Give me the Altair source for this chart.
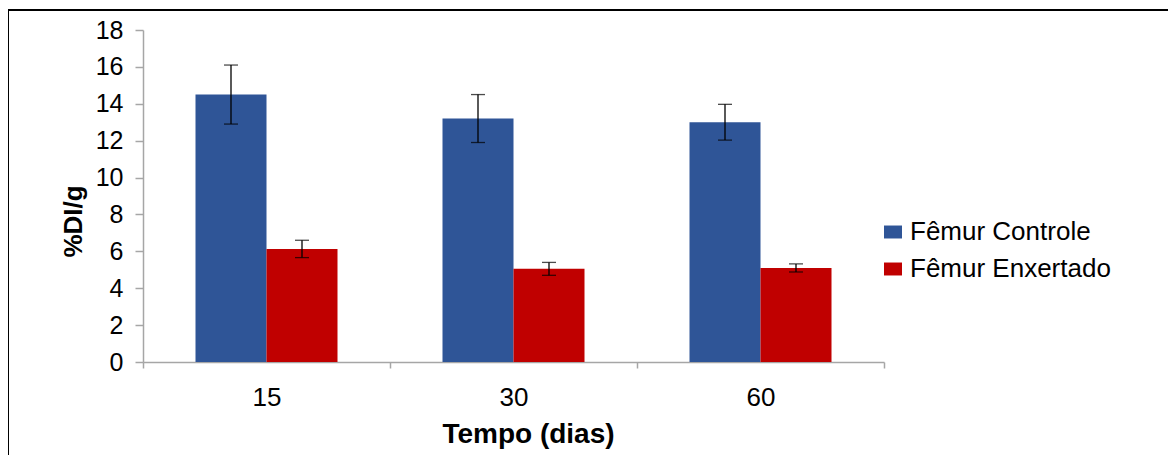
import altair as alt
import pandas as pd

# ---- data ----
days = ["15", "30", "60"]
series = ["Fêmur Controle", "Fêmur Enxertado"]
controle_mean = [14.5, 13.2, 13.0]
controle_err = [1.6, 1.3, 0.97]
enxertado_mean = [6.13, 5.05, 5.1]
enxertado_err = [0.47, 0.35, 0.22]
y_ticks = [0, 2, 4, 6, 8, 10, 12, 14, 16, 18]
colors = ["#2F5597", "#C00000"]

rows = []
for i, d in enumerate(days):
    rows.append(dict(dia=d, serie=series[0], valor=controle_mean[i],
                     lo=controle_mean[i] - controle_err[i], hi=controle_mean[i] + controle_err[i]))
    rows.append(dict(dia=d, serie=series[1], valor=enxertado_mean[i],
                     lo=enxertado_mean[i] - enxertado_err[i], hi=enxertado_mean[i] + enxertado_err[i]))
df = pd.DataFrame(rows)

FONT = "Liberation Sans"
AXIS_GRAY = "#A6A6A6"
W, H = 741, 332
PAD = {"left": 135, "top": 22, "right": 284, "bottom": 93}

x_axis = alt.Axis(
    title="Tempo (dias)", labelAngle=0, tickBand="extent", tickSize=6,
    labelFontSize=26, labelPadding=16, labelFont=FONT, labelColor="black",
    domainColor=AXIS_GRAY, tickColor=AXIS_GRAY, domainWidth=1.5, tickWidth=1.5,
    titleFont=FONT, titleFontSize=28, titleFontWeight="bold", titleColor="black",
    titleX=385, titleY=80, titleBaseline="alphabetic", titleAlign="center",
)
y_axis = alt.Axis(
    values=y_ticks, tickCount=10, grid=False, tickSize=8, labelFontSize=25, labelPadding=12,
    labelOverlap=False, labelFlush=False,
    labelFont=FONT, labelColor="black", domainColor=AXIS_GRAY, tickColor=AXIS_GRAY,
    domainWidth=1.5, tickWidth=1.5,
    title="%DI/g", titleFont=FONT, titleFontSize=26, titleFontWeight="bold",
    titleColor="black", titleAngle=270, titleX=-62, titleY=191,
    titleBaseline="alphabetic", titleAlign="center",
)
x_scale = alt.Scale(paddingInner=0, paddingOuter=0)
y_scale = alt.Scale(domain=[0, 18], nice=False)
off_scale = alt.Scale(paddingInner=0, paddingOuter=0.7394)


def xe():
    return alt.X("dia:N", sort=days, scale=x_scale, axis=x_axis)


def xo():
    return alt.XOffset("serie:N", sort=series, scale=off_scale)


def ye(field):
    return alt.Y(field, type="quantitative", scale=y_scale, axis=y_axis)


base = alt.Chart(df)

bars = base.mark_bar().encode(
    x=xe(),
    xOffset=xo(),
    y=ye("valor"),
    color=alt.Color(
        "serie:N", sort=series,
        scale=alt.Scale(domain=series, range=colors),
        legend=alt.Legend(
            title=None, orient="none", legendX=737, legendY=189,
            symbolType="M-1,-0.72H1V0.72H-1Z", symbolSize=324, symbolStrokeWidth=0,
            labelFont=FONT, labelFontSize=26, labelColor="black", labelOffset=4,
            labelLimit=400, rowPadding=11, padding=0,
        ),
    ),
)

rules = base.mark_rule(color="black", strokeWidth=1.3).encode(
    x=xe(), xOffset=xo(), y=ye("lo"), y2="hi:Q"
)
cap_hi = base.mark_tick(color="black", size=14, thickness=1.3, orient="horizontal").encode(
    x=xe(), xOffset=xo(), y=ye("hi")
)
cap_lo = base.mark_tick(color="black", size=14, thickness=1.3, orient="horizontal").encode(
    x=xe(), xOffset=xo(), y=ye("lo")
)

frame = alt.Chart(pd.DataFrame({"f": [0]})).mark_rect(
    fill=None, stroke="black", strokeWidth=2
).encode(
    x=alt.value(-PAD["left"]), x2=alt.value(W + PAD["right"] + 20),
    y=alt.value(-20), y2=alt.value(H + PAD["bottom"] + 20),
)

chart = alt.layer(bars, rules, cap_hi, cap_lo, frame).properties(
    width=W, height=H,
    autosize=alt.AutoSizeParams(type="none"),
    padding=PAD,
    background="white",
).configure_view(stroke=None)

chart.save("out.html", embed_options={"renderer": "svg", "actions": False})
